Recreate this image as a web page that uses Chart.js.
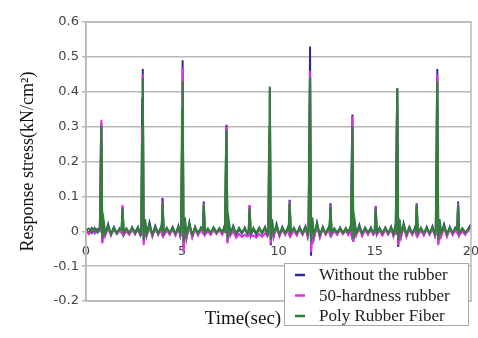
<!DOCTYPE html>
<html>
<head>
<meta charset="utf-8">
<script src="https://cdn.jsdelivr.net/npm/chart.js@4"></script>
<style>
  html, body { margin: 0; padding: 0; background: #fff; }
  #wrap { width: 478px; height: 338px; position: relative; }
</style>
</head>
<body>
<div id="wrap"><canvas id="stressChart"></canvas></div>
<script>
// time (sec), shared by all three traces
const times = [
  0, 0.15, 0.3, 0.45, 0.6,
  0.72, 0.77, 0.80, 0.85, 0.92, 1.0,
  1.15, 1.3, 1.45, 1.6, 1.75,
  1.85, 1.90, 1.96,
  2.1, 2.25, 2.4, 2.55, 2.7, 2.82,
  2.87, 2.92, 2.95, 3.0, 3.07, 3.15,
  3.3, 3.45, 3.6, 3.75, 3.88,
  3.93, 3.98, 4.04,
  4.2, 4.35, 4.5, 4.65, 4.8, 4.9,
  4.94, 4.99, 5.02, 5.07, 5.14, 5.22,
  5.37, 5.52, 5.67, 5.82, 5.97,
  6.07, 6.12, 6.18,
  6.33, 6.48, 6.63, 6.78, 6.93, 7.08, 7.18,
  7.22, 7.27, 7.30, 7.35, 7.42, 7.50,
  7.65, 7.8, 7.95, 8.1, 8.25, 8.38,
  8.45, 8.50, 8.56,
  8.7, 8.85, 9.0, 9.15, 9.3, 9.43,
  9.47, 9.52, 9.55, 9.60, 9.67, 9.75,
  9.9, 10.05, 10.2, 10.35, 10.48,
  10.53, 10.58, 10.64,
  10.8, 10.95, 11.1, 11.25, 11.4, 11.52,
  11.56, 11.61, 11.64, 11.69, 11.76, 11.84,
  12.0, 12.15, 12.3, 12.45, 12.6,
  12.65, 12.70, 12.76,
  12.9, 13.05, 13.2, 13.35, 13.5, 13.62, 13.72,
  13.76, 13.81, 13.84, 13.89, 13.96, 14.04,
  14.2, 14.35, 14.5, 14.65, 14.8, 14.93,
  15.0, 15.05, 15.11,
  15.25, 15.4, 15.55, 15.7, 15.85, 15.97, 16.05,
  16.09, 16.14, 16.17, 16.22, 16.29, 16.37,
  16.5, 16.65, 16.8, 16.95, 17.08,
  17.13, 17.18, 17.24,
  17.4, 17.55, 17.7, 17.85, 18.0, 18.13,
  18.17, 18.22, 18.25, 18.30, 18.37, 18.45,
  18.6, 18.75, 18.9, 19.05, 19.18,
  19.28, 19.33, 19.39,
  19.55, 19.7, 19.85, 20.0
];

const withoutRubber = [
  0.005, -0.006, 0.009, -0.004, 0.007,
  0.005, 0.24, 0.31, -0.03, 0.02, -0.01,
  0.02, -0.01, 0.012, -0.006, 0.008,
  0.0, 0.07, -0.01,
  0.006, -0.008, 0.01, -0.005, 0.012, -0.01,
  -0.01, 0.38, 0.465, -0.03, 0.03, -0.01,
  0.025, -0.012, 0.015, -0.008, 0.01,
  0.0, 0.095, -0.01,
  0.008, -0.006, 0.012, -0.01, 0.015, -0.012,
  0.0, 0.25, 0.49, -0.05, 0.03, -0.02,
  0.025, -0.015, 0.012, -0.008, 0.01,
  0.0, 0.085, -0.008,
  0.006, -0.008, 0.01, -0.004, 0.008, -0.006, 0.012,
  0.0, 0.22, 0.305, -0.03, 0.02, -0.01,
  0.015, -0.01, 0.008, -0.006, 0.01, -0.008,
  -0.005, 0.075, -0.012,
  0.008, -0.01, 0.01, -0.006, 0.012, -0.012,
  -0.005, 0.22, 0.41, -0.04, 0.025, -0.015,
  0.02, -0.012, 0.012, -0.008, 0.01,
  0.0, 0.09, -0.01,
  0.008, -0.01, 0.012, -0.008, 0.014, -0.015,
  0.0, 0.30, 0.53, -0.07, 0.03, -0.02,
  0.025, -0.015, 0.012, -0.008, 0.01,
  0.0, 0.08, -0.01,
  0.006, -0.008, 0.01, -0.005, 0.008, -0.006, 0.01,
  0.0, 0.22, 0.335, -0.03, 0.02, -0.01,
  0.018, -0.01, 0.01, -0.006, 0.01, -0.008,
  0.0, 0.072, -0.008,
  0.008, -0.01, 0.01, -0.008, 0.012, -0.012, 0.01,
  -0.01, 0.25, 0.41, -0.045, 0.02, -0.015,
  0.022, -0.012, 0.012, -0.008, 0.01,
  0.0, 0.08, -0.01,
  0.008, -0.01, 0.012, -0.008, 0.014, -0.012,
  0.0, 0.25, 0.465, -0.035, 0.025, -0.01,
  0.02, -0.012, 0.012, -0.008, 0.01,
  0.0, 0.085, -0.01,
  0.008, -0.008, 0.006, 0.02
];

const hardness50 = [
  0.002, -0.008, 0.004, -0.007, 0.003,
  0.0, 0.20, 0.32, -0.035, 0.015, -0.012,
  0.01, -0.012, 0.006, -0.008, 0.002,
  -0.005, 0.075, -0.01,
  0.0, -0.01, 0.005, -0.009, 0.006, -0.012,
  -0.005, 0.30, 0.45, -0.04, 0.02, -0.015,
  0.012, -0.015, 0.008, -0.01, 0.004,
  -0.005, 0.085, -0.012,
  0.002, -0.01, 0.006, -0.012, 0.008, -0.015,
  -0.01, 0.24, 0.47, -0.06, 0.02, -0.02,
  0.015, -0.018, 0.006, -0.012, 0.004,
  -0.005, 0.08, -0.01,
  0.0, -0.01, 0.004, -0.008, 0.003, -0.01, 0.006,
  -0.005, 0.18, 0.30, -0.035, 0.015, -0.012,
  0.0, -0.018, -0.008, -0.016, -0.01, -0.015,
  -0.012, 0.075, -0.015,
  -0.012, -0.018, -0.008, -0.016, -0.006, -0.014,
  -0.01, 0.27, 0.40, -0.035, 0.02, -0.015,
  0.01, -0.015, 0.006, -0.01, 0.004,
  -0.005, 0.085, -0.012,
  0.002, -0.012, 0.006, -0.01, 0.008, -0.016,
  -0.01, 0.28, 0.46, -0.06, 0.02, -0.02,
  0.015, -0.018, 0.008, -0.01, 0.004,
  -0.005, 0.075, -0.01,
  0.0, -0.01, 0.004, -0.008, 0.002, -0.01, 0.004,
  -0.005, 0.20, 0.33, -0.03, 0.015, -0.01,
  0.008, -0.014, 0.004, -0.01, 0.004, -0.01,
  -0.005, 0.07, -0.01,
  0.002, -0.012, 0.005, -0.01, 0.006, -0.014, 0.004,
  -0.01, 0.28, 0.40, -0.04, 0.015, -0.015,
  0.012, -0.016, 0.006, -0.01, 0.004,
  -0.005, 0.08, -0.012,
  0.002, -0.012, 0.006, -0.01, 0.008, -0.015,
  -0.01, 0.24, 0.45, -0.04, 0.02, -0.015,
  0.01, -0.015, 0.006, -0.01, 0.004,
  -0.005, 0.08, -0.012,
  0.0, -0.01, 0.002, 0.01
];

const polyFiber = [
  0.004, 0.008, -0.005, 0.01, -0.004,
  0.01, 0.15, 0.30, -0.02, 0.03, -0.005,
  0.015, -0.008, 0.01, -0.006, 0.006,
  0.005, 0.065, -0.005,
  0.008, -0.004, 0.012, -0.006, 0.01, -0.008,
  0.005, 0.25, 0.44, -0.025, 0.035, -0.008,
  0.018, -0.01, 0.012, -0.006, 0.008,
  0.005, 0.08, -0.005,
  0.01, -0.004, 0.009, -0.007, 0.012, -0.006,
  0.008, 0.35, 0.43, -0.03, 0.04, -0.01,
  0.02, -0.01, 0.012, -0.006, 0.008,
  0.005, 0.075, -0.004,
  0.008, -0.004, 0.011, -0.005, 0.009, -0.003, 0.01,
  0.005, 0.20, 0.29, -0.02, 0.03, -0.005,
  0.012, -0.006, 0.01, -0.004, 0.008, -0.005,
  0.002, 0.065, -0.006,
  0.009, -0.005, 0.01, -0.004, 0.011, -0.007,
  0.005, 0.30, 0.415, -0.025, 0.035, -0.005,
  0.015, -0.008, 0.01, -0.005, 0.008,
  0.005, 0.08, -0.005,
  0.01, -0.005, 0.01, -0.006, 0.012, -0.008,
  0.005, 0.35, 0.44, -0.03, 0.04, -0.01,
  0.02, -0.01, 0.012, -0.006, 0.008,
  0.005, 0.07, -0.005,
  0.008, -0.004, 0.01, -0.005, 0.009, -0.004, 0.008,
  0.005, 0.18, 0.30, -0.02, 0.03, -0.005,
  0.014, -0.006, 0.01, -0.004, 0.008, -0.005,
  0.004, 0.065, -0.004,
  0.01, -0.005, 0.01, -0.006, 0.012, -0.008, 0.01,
  0.005, 0.30, 0.41, -0.025, 0.035, -0.005,
  0.018, -0.008, 0.012, -0.006, 0.008,
  0.005, 0.075, -0.005,
  0.01, -0.005, 0.01, -0.006, 0.012, -0.008,
  0.005, 0.35, 0.43, -0.025, 0.035, -0.005,
  0.015, -0.008, 0.01, -0.005, 0.008,
  0.005, 0.075, -0.005,
  0.008, -0.004, 0.006, 0.012
];

const seriesNames = ['Without the rubber', '50-hardness rubber', 'Poly Rubber Fiber'];
const seriesColors = ['#2b2b8c', '#e22ee2', '#2a8332'];
const yTicks = [-0.2, -0.1, 0, 0.1, 0.2, 0.3, 0.4, 0.5, 0.6];

const toPoints = vals => times.map((t, i) => ({ x: t, y: vals[i] }));

// plot frame, x title and the boxed legend drawn over the plot
const decorations = {
  id: 'decorations',
  afterDraw(chart) {
    const { ctx, chartArea } = chart;
    ctx.save();
    ctx.strokeStyle = '#b8b8b8';
    ctx.lineWidth = 1.5;
    ctx.strokeRect(chartArea.left, chartArea.top, chartArea.right - chartArea.left, chartArea.bottom - chartArea.top);

    ctx.fillStyle = '#111';
    ctx.font = '19px "Liberation Serif"';
    ctx.textAlign = 'center';
    ctx.textBaseline = 'middle';
    ctx.fillText('Time(sec)', 243, 319);

    const lx = 284, ly = 263, lw = 184, lh = 62;
    ctx.fillStyle = '#fff';
    ctx.fillRect(lx, ly, lw, lh);
    ctx.strokeStyle = '#a8a8a8';
    ctx.lineWidth = 1;
    ctx.strokeRect(lx + 0.5, ly + 0.5, lw, lh);
    ctx.font = '17px "Liberation Serif"';
    ctx.textAlign = 'left';
    seriesNames.forEach((name, i) => {
      const y = ly + 12 + i * 20.5;
      ctx.strokeStyle = seriesColors[i];
      ctx.lineWidth = 2.5;
      ctx.beginPath();
      ctx.moveTo(lx + 11, y);
      ctx.lineTo(lx + 21, y);
      ctx.stroke();
      ctx.fillStyle = '#222';
      ctx.fillText(name, lx + 35, y + 1);
    });
    ctx.restore();
  }
};

const tickFont = { family: '"DejaVu Sans"', size: 13 };

new Chart(document.getElementById('stressChart'), {
  type: 'line',
  data: {
    datasets: [
      { label: seriesNames[2], data: toPoints(polyFiber), borderColor: seriesColors[2], order: 0 },
      { label: seriesNames[1], data: toPoints(hardness50), borderColor: seriesColors[1], order: 1 },
      { label: seriesNames[0], data: toPoints(withoutRubber), borderColor: seriesColors[0], order: 2 }
    ]
  },
  options: {
    responsive: true,
    maintainAspectRatio: false,
    animation: false,
    elements: {
      point: { radius: 0 },
      line: { borderWidth: 2, tension: 0 }
    },
    layout: {
      padding: { top: 22, right: 7, bottom: 37, left: 17 }
    },
    scales: {
      x: {
        type: 'linear',
        position: { y: 0 },
        min: 0,
        max: 20,
        afterFit: scale => { scale.paddingLeft = 0; scale.paddingRight = 0; },
        ticks: {
          stepSize: 5,
          padding: 13,
          color: '#444',
          font: tickFont
        },
        grid: { display: false, drawTicks: false },
        border: { display: false }
      },
      y: {
        min: -0.2,
        max: 0.6,
        afterBuildTicks: axis => { axis.ticks = yTicks.map(v => ({ value: v })); },
        ticks: {
          callback: value => (Math.abs(value) < 1e-9 ? '0' : value.toFixed(1)),
          color: '#444',
          padding: 3,
          font: tickFont
        },
        grid: {
          color: '#b8b8b8',
          lineWidth: 1.5,
          tickLength: 4
        },
        border: { color: '#b8b8b8', width: 1.5 },
        title: {
          display: true,
          text: 'Response stress(kN/cm²)',
          color: '#111',
          padding: { top: 0, bottom: 12 },
          font: { family: '"Liberation Serif"', size: 18 }
        }
      }
    },
    plugins: {
      legend: { display: false },
      tooltip: { enabled: false }
    }
  },
  plugins: [decorations]
});
</script>
</body>
</html>
